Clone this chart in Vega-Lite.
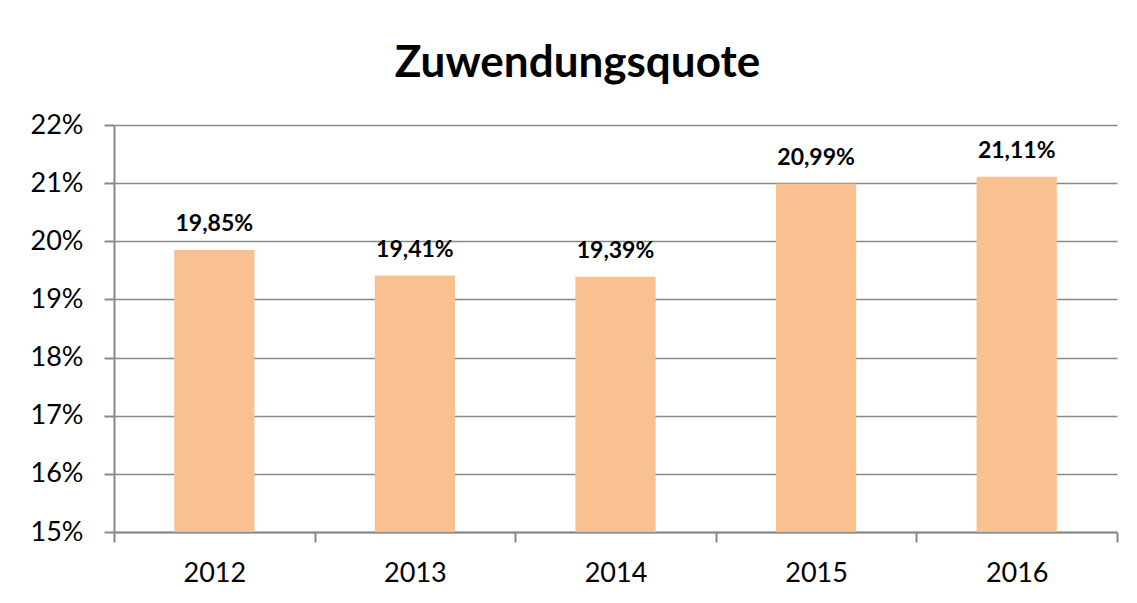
{
  "$schema": "https://vega.github.io/schema/vega-lite/v6.json",
  "width": 1003,
  "height": 407,
  "autosize": {"type": "none"},
  "padding": {"left": 114, "top": 125, "right": 20, "bottom": 71},
  "background": "white",
  "config": {
    "view": {"stroke": null},
    "font": "Lato",
    "locale": {"number": {"decimal": ",", "thousands": ".", "grouping": [3], "currency": ["", " €"]}}
  },
  "title": {
    "text": "Zuwendungsquote",
    "font": "Lato",
    "fontSize": 44,
    "fontWeight": "bold",
    "color": "black",
    "anchor": "middle",
    "dx": -38,
    "offset": 25
  },
  "data": {
    "values": [
      {"year": "2012", "value": 0.1985},
      {"year": "2013", "value": 0.1941},
      {"year": "2014", "value": 0.1939},
      {"year": "2015", "value": 0.2099},
      {"year": "2016", "value": 0.2111}
    ]
  },
  "encoding": {
    "x": {
      "field": "year",
      "type": "nominal",
      "title": null,
      "scale": {"paddingInner": 0, "paddingOuter": 0},
      "axis": {
        "labelAngle": 0,
        "labelFont": "Lato",
        "labelFontSize": 27,
        "labelColor": "black",
        "labelPadding": 18,
        "domainColor": "#888888",
        "domainWidth": 2,
        "tickColor": "#888888",
        "tickWidth": 2,
        "tickSize": 10,
        "tickBand": "extent",
        "grid": false
      }
    },
    "y": {
      "field": "value",
      "type": "quantitative",
      "title": null,
      "scale": {"domain": [0.15, 0.22], "zero": false, "nice": false},
      "axis": {
        "values": [0.15, 0.16, 0.17, 0.18, 0.19, 0.2, 0.21, 0.22],
        "format": ".0%",
        "labelFont": "Lato",
        "labelFontSize": 27,
        "labelColor": "black",
        "labelPadding": 21,
        "domainColor": "#888888",
        "domainWidth": 2,
        "tickColor": "#888888",
        "tickWidth": 2,
        "tickSize": 10,
        "grid": true,
        "gridColor": "#888888",
        "gridWidth": 1.5
      }
    }
  },
  "layer": [
    {
      "mark": {"type": "bar", "color": "#F9C090", "clip": true, "width": {"band": 0.4}}
    },
    {
      "mark": {
        "type": "text",
        "font": "Lato",
        "fontSize": 23,
        "fontWeight": "bold",
        "color": "black",
        "baseline": "alphabetic",
        "dy": -19
      },
      "encoding": {
        "text": {"field": "value", "type": "quantitative", "format": ".2%"}
      }
    }
  ]
}
